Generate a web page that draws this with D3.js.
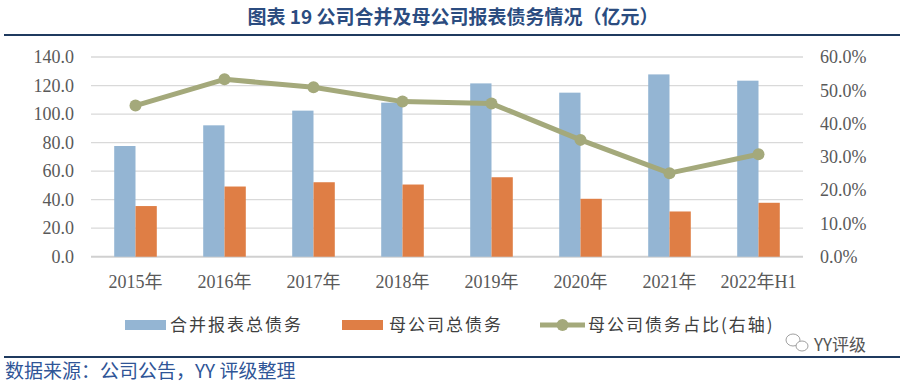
<!DOCTYPE html>
<html><head><meta charset="utf-8">
<script src="https://cdn.jsdelivr.net/npm/d3@7"></script>
<style>
html,body{margin:0;padding:0;background:#fff;}
svg{display:block;}
</style></head>
<body>
<svg id="c" width="904" height="385"></svg>
<script>
const categories = ["2015年","2016年","2017年","2018年","2019年","2020年","2021年","2022年H1"];
const consolidatedDebt = [77.6, 92.1, 102.4, 108.0, 121.5, 115.0, 127.8, 123.4];
const parentDebt = [35.5, 49.2, 52.2, 50.6, 55.7, 40.6, 31.7, 37.8];
const parentShare = [0.454, 0.533, 0.509, 0.466, 0.460, 0.351, 0.251, 0.308];
const leftTicks = [0, 20, 40, 60, 80, 100, 120, 140];
const rightTicks = [0, 0.1, 0.2, 0.3, 0.4, 0.5, 0.6];
const seriesNames = ["合并报表总债务", "母公司总债务", "母公司债务占比(右轴)"];

const colors = {blue:"#94b5d3", orange:"#df7e45", green:"#a4a97b"};
const svg = d3.select("#c");
const L = 91, R = 803, T = 57, B = 256.7;

const x = d3.scaleBand().domain(categories).range([L, R]).paddingInner(0).paddingOuter(0);
const xs = d3.scaleBand().domain([0,1]).range([0, x.bandwidth()]).paddingInner(0).paddingOuter(1.09);
const y = d3.scaleLinear().domain([0, 140]).range([B, T]);
const y2 = d3.scaleLinear().domain([0, 0.6]).range([B, T]);

const serif = "'Liberation Serif','DejaVu Serif','Noto Sans CJK SC',serif";
const cjk = "'Noto Sans CJK SC','Noto Sans',sans-serif";

// title
svg.append("text").attr("x", 453).attr("y", 24).attr("text-anchor", "middle")
  .attr("font-family", cjk).attr("font-weight", "bold").attr("font-size", 19)
  .attr("fill", "#2b4c80").text("图表 19 公司合并及母公司报表债务情况（亿元）");
svg.append("rect").attr("x", 4).attr("y", 34).attr("width", 896).attr("height", 2).attr("fill", "#1f3a5f");

// gridlines
svg.append("g").selectAll("line").data(leftTicks).join("line")
  .attr("x1", L).attr("x2", R).attr("y1", d => y(d)).attr("y2", d => y(d))
  .attr("stroke", d => d === 0 ? "#d0d0d0" : "#d9d9d9").attr("stroke-width", d => d === 0 ? 2 : 1.3);

// left axis
const ya = d3.axisLeft(y).tickValues(leftTicks).tickFormat(d3.format(".1f")).tickSize(0).tickPadding(0);
const gy = svg.append("g").attr("transform", `translate(74,0)`).call(ya);
gy.select(".domain").remove();
gy.selectAll("text").attr("font-family", serif).attr("font-size", 18).attr("fill", "#595959");

// right axis
const ya2 = d3.axisRight(y2).tickValues(rightTicks).tickFormat(d3.format(".1%")).tickSize(0).tickPadding(0);
const gy2 = svg.append("g").attr("transform", `translate(820,0)`).call(ya2);
gy2.select(".domain").remove();
gy2.selectAll("text").attr("font-family", serif).attr("font-size", 18).attr("fill", "#595959");

// x axis
const xa = d3.axisBottom(x).tickSize(0).tickPadding(0);
const gx = svg.append("g").attr("transform", `translate(0,${B + 19})`).call(xa);
gx.select(".domain").remove();
gx.selectAll("text").attr("font-family", serif).attr("font-size", 18).attr("fill", "#595959");

// bars
const bars = svg.append("g");
bars.selectAll(".b1").data(categories).join("rect")
  .attr("x", (d) => x(d) + xs(0)).attr("width", xs.bandwidth())
  .attr("y", (d,i) => y(consolidatedDebt[i])).attr("height", (d,i) => y(0) - y(consolidatedDebt[i]))
  .attr("fill", colors.blue);
bars.selectAll(".b2").data(categories).join("rect")
  .attr("x", (d) => x(d) + xs(1)).attr("width", xs.bandwidth())
  .attr("y", (d,i) => y(parentDebt[i])).attr("height", (d,i) => y(0) - y(parentDebt[i]))
  .attr("fill", colors.orange);

// line
const cx = d => x(d) + x.bandwidth()/2;
const line = d3.line().x((d,i) => cx(categories[i])).y(d => y2(d));
svg.append("path").datum(parentShare).attr("d", line).attr("fill", "none")
  .attr("stroke", colors.green).attr("stroke-width", 5).attr("stroke-linejoin", "round");
svg.append("g").selectAll("circle").data(parentShare).join("circle")
  .attr("cx", (d,i) => cx(categories[i])).attr("cy", d => y2(d)).attr("r", 6).attr("fill", colors.green);

// legend
const lg = svg.append("g");
const ly = 325;
lg.append("rect").attr("x", 125).attr("y", ly - 5).attr("width", 41).attr("height", 10).attr("fill", colors.blue);
lg.append("rect").attr("x", 342).attr("y", ly - 5).attr("width", 41).attr("height", 10).attr("fill", colors.orange);
lg.append("line").attr("x1", 540).attr("x2", 585).attr("y1", ly).attr("y2", ly).attr("stroke", colors.green).attr("stroke-width", 5);
lg.append("circle").attr("cx", 562.5).attr("cy", ly).attr("r", 6).attr("fill", colors.green);
const lx = [170, 389, 588];
lg.selectAll("text").data(seriesNames).join("text")
  .attr("x", (d,i) => lx[i]).attr("y", ly + 6).attr("font-family", cjk).attr("font-size", 17)
  .attr("letter-spacing", 2).attr("fill", "#404040").text(d => d);

// bottom rule and source
svg.append("rect").attr("x", 4).attr("y", 356).attr("width", 896).attr("height", 2).attr("fill", "#1f3a5f");
svg.append("text").attr("x", 5).attr("y", 378).attr("font-family", cjk).attr("font-size", 19)
  .attr("fill", "#2f5597").text("数据来源：公司公告，YY 评级整理");

// wechat watermark
const wm = svg.append("g").attr("fill", "none").attr("stroke", "#888").attr("stroke-width", 0.8);
wm.append("ellipse").attr("cx", 793).attr("cy", 340).attr("rx", 7).attr("ry", 6);
wm.append("ellipse").attr("cx", 802).attr("cy", 346).attr("rx", 6).attr("ry", 5).attr("fill", "#fff");
svg.append("text").attr("x", 814).attr("y", 351).attr("font-family", cjk).attr("font-size", 17)
  .attr("fill", "#555").text("YY评级");
</script>
</body></html>
